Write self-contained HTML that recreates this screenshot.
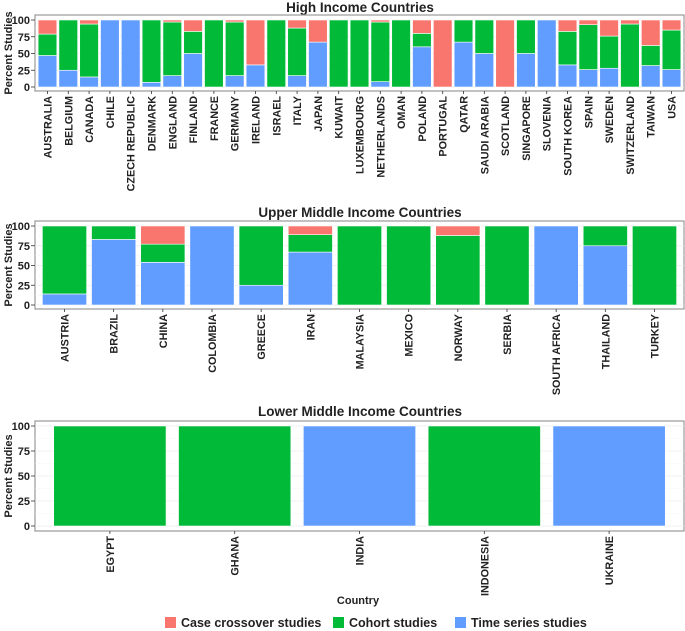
<!DOCTYPE html>
<html><head><meta charset="utf-8"><style>
html,body{margin:0;padding:0;background:#fff}
svg{display:block;font-family:"Liberation Sans",Arial,sans-serif}
</style></head><body>
<svg id="chart" width="685" height="631" viewBox="0 0 685 631"></svg>
<script>
// High income
const hiCountries=["AUSTRALIA","BELGIUM","CANADA","CHILE","CZECH REPUBLIC","DENMARK","ENGLAND","FINLAND","FRANCE","GERMANY","IRELAND","ISRAEL","ITALY","JAPAN","KUWAIT","LUXEMBOURG","NETHERLANDS","OMAN","POLAND","PORTUGAL","QATAR","SAUDI ARABIA","SCOTLAND","SINGAPORE","SLOVENIA","SOUTH KOREA","SPAIN","SWEDEN","SWITZERLAND","TAIWAN","USA"];
const hiTime=[47,25,15,100,100,7,17,50,0,17,33,0,17,67,0,0,8,0,60,0,67,50,0,50,100,33,26,28,0,32,26];
const hiCohort=[32,75,79,0,0,93,80,33,100,80,0,100,71,0,100,100,89,100,20,0,33,50,0,50,0,50,67,48,94,30,59];
const hiCase=[21,0,6,0,0,0,3,17,0,3,67,0,12,33,0,0,3,0,20,100,0,0,100,0,0,17,7,24,6,38,15];
// Upper middle
const umCountries=["AUSTRIA","BRAZIL","CHINA","COLOMBIA","GREECE","IRAN","MALAYSIA","MEXICO","NORWAY","SERBIA","SOUTH AFRICA","THAILAND","TURKEY"];
const umTime=[14,83,54,100,25,67,0,0,0,0,100,75,0];
const umCohort=[86,17,23,0,75,22,100,100,88,100,0,25,100];
const umCase=[0,0,23,0,0,11,0,0,12,0,0,0,0];
// Lower middle
const lmCountries=["EGYPT","GHANA","INDIA","INDONESIA","UKRAINE"];
const lmTime=[0,0,100,0,100];
const lmCohort=[100,100,0,100,0];
const lmCase=[0,0,0,0,0];
const yTicks=[0,25,50,75,100];
const legendLabels=["Case crossover studies","Cohort studies","Time series studies"];

const COL={cc:"#F8766D",coh:"#00BA38",ts:"#619CFF"};
const svg=document.getElementById('chart');
const NS="http://www.w3.org/2000/svg";
function mk(tag,attrs,parent){const e=document.createElementNS(NS,tag);for(const k in attrs)e.setAttribute(k,attrs[k]);(parent||svg).appendChild(e);return e;}

function panel(name,title,titleY,top,bottom,y100,y0,cats,ts,coh,cc){
  const L=35,R=684;
  const g=mk('g',{});
  
  
  const t=mk('text',{x:360,y:titleY,'text-anchor':'middle','font-size':13.5,'font-weight':'bold',fill:'#222'},g);
  t.textContent=title;
  
  
  mk('rect',{x:L,y:top,width:R-L,height:bottom-top,fill:'#fff',stroke:'#999','stroke-width':1.2},g);
  const yS=v=>y0+(y100-y0)*v/100;
  yTicks.forEach(v=>{
    mk('line',{x1:L,x2:R,y1:yS(v),y2:yS(v),stroke:'#ebebeb','stroke-width':0.8},g);
    if(v<100) mk('line',{x1:L,x2:R,y1:yS(v+12.5),y2:yS(v+12.5),stroke:'#f4f4f4','stroke-width':0.5},g);
    const tl=mk('text',{x:30,y:yS(v)+4,'text-anchor':'end','font-size':11,'font-weight':'bold',fill:'#222'},g);
    tl.textContent=v;
    
    
    mk('line',{x1:31,x2:L,y1:yS(v),y2:yS(v),stroke:'#333','stroke-width':0.8},g);
  });
  const yl=mk('text',{transform:`translate(12,${(top+bottom)/2}) rotate(-90)`,'text-anchor':'middle','font-size':11,'font-weight':'bold',fill:'#222'},g);
  yl.textContent="Percent Studies";
  
  
  const n=cats.length,unit=(R-L)/(n+0.2),bw=unit*0.9;
  const xC=i=>L+unit*(0.6+i);
  cats.forEach((c,i)=>{
    const x=xC(i)-bw/2;
    const segs=[[ts[i],COL.ts,'time-series'],[coh[i],COL.coh,'cohort'],[cc[i],COL.cc,'case-crossover']];
    let base=0;
    segs.forEach(s=>{
      if(s[0]>0){
        const r=mk('rect',{x:x,y:yS(base+s[0]),width:bw,height:yS(base)-yS(base+s[0]),fill:s[1],stroke:'#fff','stroke-width':0.6},g);
        
        
      }
      base+=s[0];
    });
    mk('line',{x1:xC(i),x2:xC(i),y1:bottom,y2:bottom+3,stroke:'#333','stroke-width':0.8},g);
    const xl=mk('text',{transform:`translate(${xC(i)+4},${bottom+5}) rotate(-90)`,'text-anchor':'end','font-size':10.8,'font-weight':'bold',fill:'#222'},g);
    xl.textContent=c;
    
    
  });
}
panel('high-income','High Income Countries',12,15,91,20,87,hiCountries,hiTime,hiCohort,hiCase);
panel('upper-middle-income','Upper Middle Income Countries',217,221,309,226,305,umCountries,umTime,umCohort,umCase);
panel('lower-middle-income','Lower Middle Income Countries',416,421,531,426,526,lmCountries,lmTime,lmCohort,lmCase);

const xt=mk('text',{x:358,y:604,'text-anchor':'middle','font-size':11,'font-weight':'bold',fill:'#222'});
xt.textContent="Country";



const lg=mk('g',{});


const lcols=[COL.cc,COL.coh,COL.ts];
const lx=[165,333,455];
legendLabels.forEach((lab,i)=>{
  const sw=mk('rect',{x:lx[i],y:617,width:11,height:11,fill:lcols[i]},lg);
  
  
  const tx=mk('text',{x:lx[i]+16,y:627,'font-size':12.5,'font-weight':'bold',fill:'#222'},lg);
  tx.textContent=lab;
  
  
});
</script>
</body></html>
